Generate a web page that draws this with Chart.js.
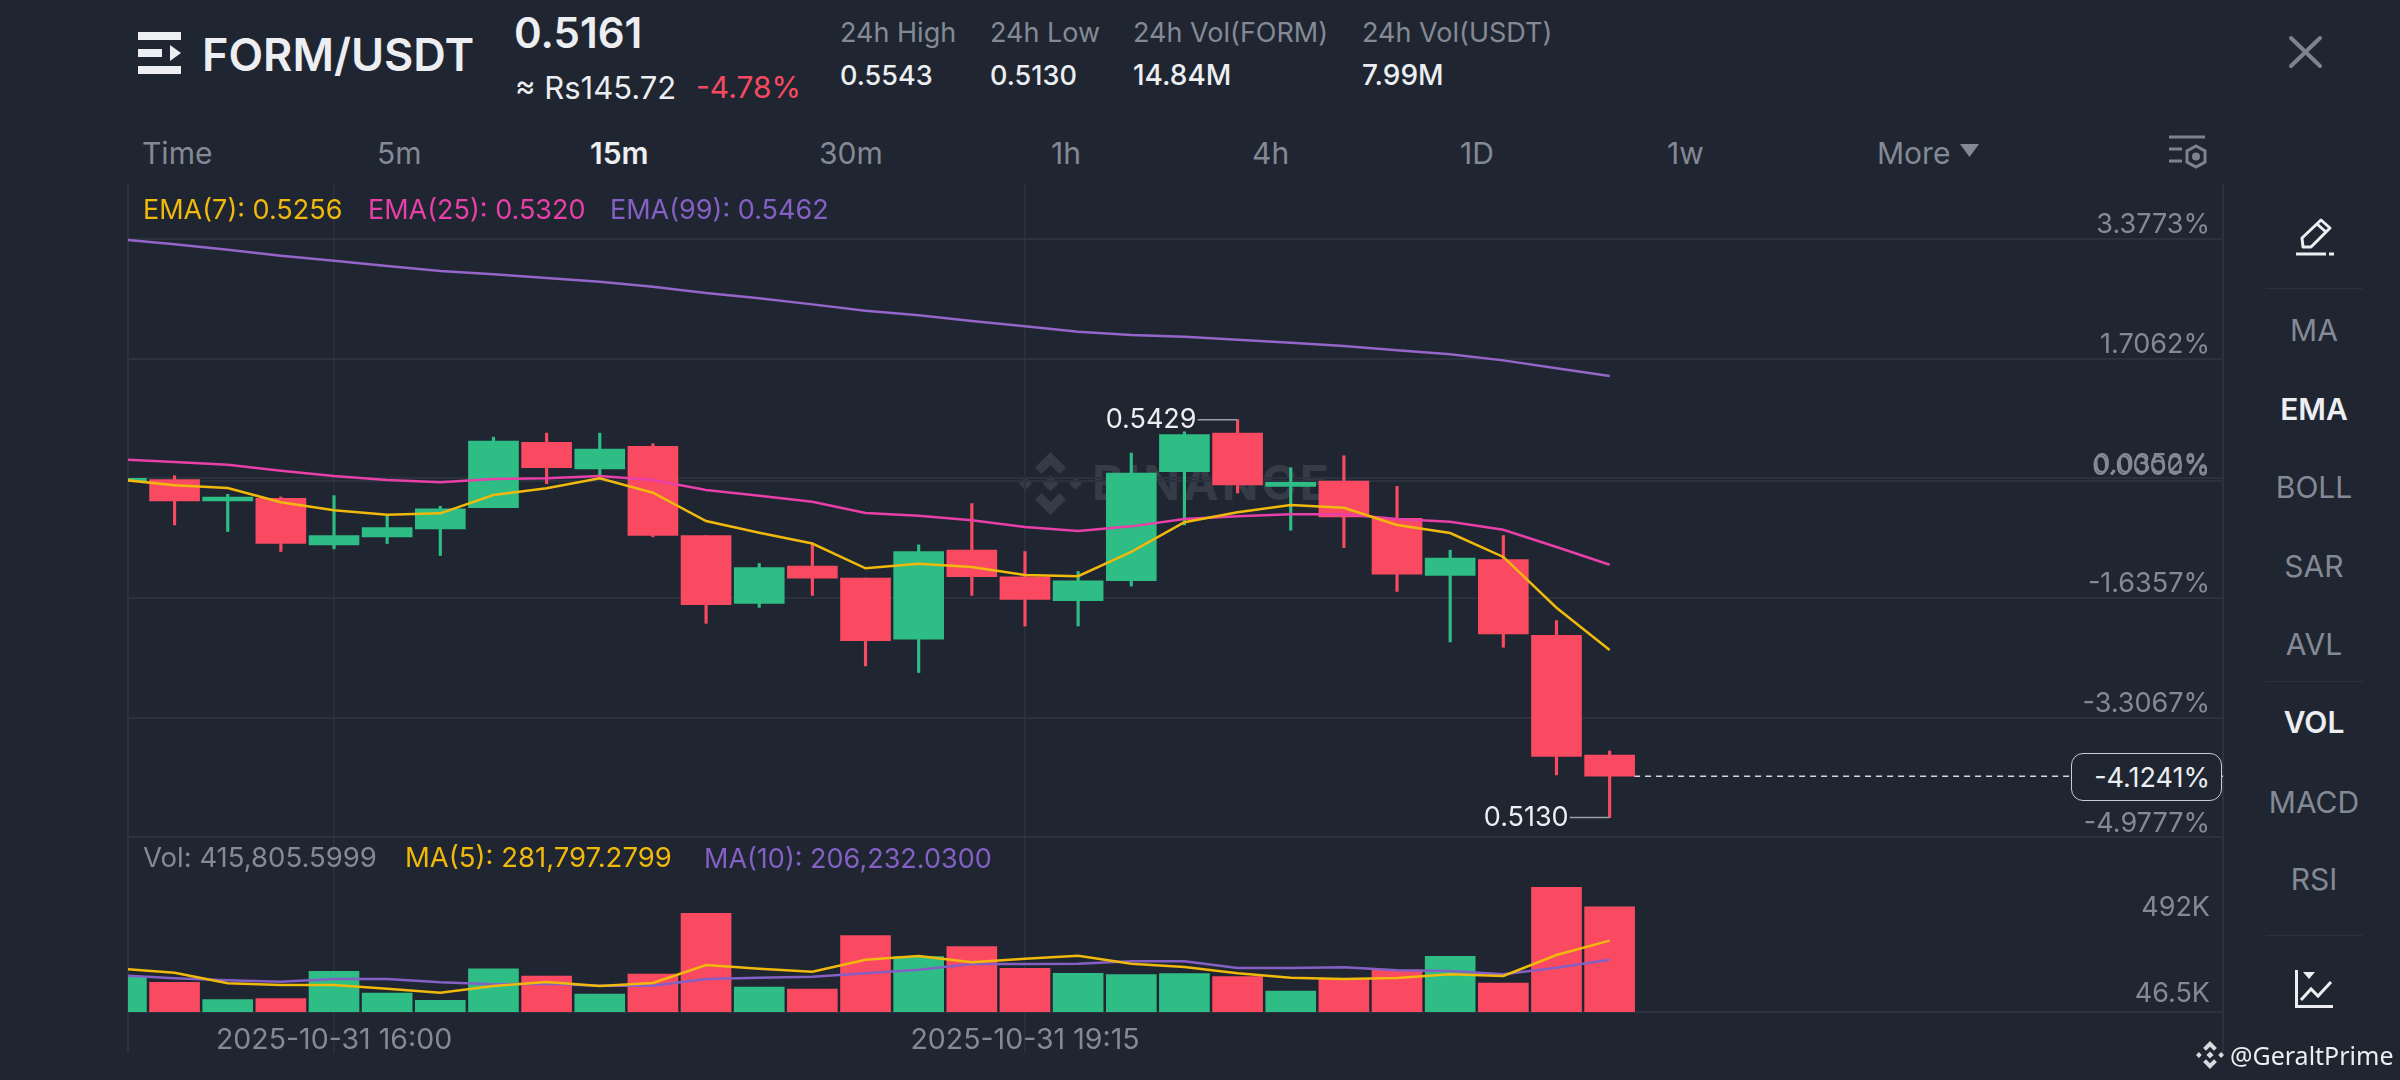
<!DOCTYPE html>
<html>
<head>
<meta charset="utf-8">
<title>FORM/USDT</title>
<script src="https://cdn.jsdelivr.net/npm/chart.js@4"></script>
<style>
  html, body { margin: 0; padding: 0; background: #1f2631; }
  body { position: relative; width: 2400px; height: 1080px; overflow: hidden; font-family: Inter, sans-serif; color: #848a95; }
  .t { position: absolute; white-space: nowrap; line-height: 1; transform: translateY(-50%); }
  .c { transform: translate(-50%, -50%); }
  .w { color: #eceef1; }
  .b { font-weight: 600; }
  .line { position: absolute; background: #2b313d; }
  canvas { position: absolute; }
  svg { position: absolute; overflow: visible; }
</style>
</head>
<body>

<!-- header -->
<svg style="left:138px;top:32px" width="44" height="42" viewBox="0 0 44 42" fill="#eceef1">
  <rect x="0" y="0" width="43" height="8"/><rect x="0" y="17" width="24" height="8"/>
  <polygon points="32,13 43,21 32,29"/><rect x="0" y="34" width="43" height="8"/>
</svg>
<div class="t w b" style="left:202px;top:54px;font-size:45px">FORM/USDT</div>
<div class="t w b" style="left:514px;top:33px;font-size:42px">0.5161</div>
<div class="t w" style="left:515px;top:87px;font-size:31px">≈ Rs145.72</div>
<div class="t" style="left:696px;top:87px;font-size:30px;color:#f84960">-4.78%</div>

<div class="t" style="left:840px;top:32px;font-size:27px">24h High</div>
<div class="t" style="left:990px;top:32px;font-size:27px">24h Low</div>
<div class="t" style="left:1133px;top:32px;font-size:27px">24h Vol(FORM)</div>
<div class="t" style="left:1362px;top:32px;font-size:27px">24h Vol(USDT)</div>
<div class="t w" style="left:840px;top:75px;font-size:27px;font-weight:500">0.5543</div>
<div class="t w" style="left:990px;top:75px;font-size:27px;font-weight:500">0.5130</div>
<div class="t w" style="left:1133px;top:75px;font-size:28px;font-weight:500">14.84M</div>
<div class="t w" style="left:1362px;top:75px;font-size:28px;font-weight:500">7.99M</div>

<svg style="left:2289px;top:36px" width="33" height="32" stroke="#7d828c" stroke-width="4" stroke-linecap="round"><path d="M2 2L31 30M31 2L2 30"/></svg>

<!-- interval tabs -->
<div class="t" style="left:142px;top:153px;font-size:30px">Time</div>
<div class="t" style="left:377px;top:153px;font-size:30px">5m</div>
<div class="t w b" style="left:590px;top:153px;font-size:30px">15m</div>
<div class="t" style="left:819px;top:153px;font-size:30px">30m</div>
<div class="t" style="left:1051px;top:153px;font-size:30px">1h</div>
<div class="t" style="left:1252px;top:153px;font-size:30px">4h</div>
<div class="t" style="left:1460px;top:153px;font-size:30px">1D</div>
<div class="t" style="left:1667px;top:153px;font-size:30px">1w</div>
<div class="t" style="left:1877px;top:153px;font-size:30px">More</div>
<svg style="left:1960px;top:144px" width="20" height="16" fill="#848a95"><polygon points="0,0 19,0 9.5,13"/></svg>
<svg style="left:2169px;top:135px" width="37" height="35" fill="none" stroke="#7d828c" stroke-width="3">
  <path d="M0 2H36M0 14H13M0 26H13"/><path d="M27 11L36 16V27L27 32L18 27V16Z"/><circle cx="27" cy="21.5" r="2.5" fill="#7d828c"/>
</svg>

<!-- chart panel frame -->
<div class="line" style="left:127px;top:184px;width:2px;height:869px"></div>
<div class="line" style="left:2222px;top:184px;width:2px;height:869px"></div>

<!-- watermark, sits under the transparent canvas -->
<svg style="left:1019px;top:452px" width="63" height="63" viewBox="0 0 126 126" fill="#363c47">
  <polygon points="63,0 94,31 81,44 63,26 45,44 32,31"/>
  <polygon points="13,50 26,63 13,76 0,63"/><polygon points="113,50 126,63 113,76 100,63"/>
  <polygon points="63,47 79,63 63,79 47,63"/>
  <polygon points="63,126 94,95 81,82 63,100 45,82 32,95"/>
</svg>
<div class="t" style="left:1092px;top:483px;font-size:48px;font-weight:700;letter-spacing:3px;color:#363c47">BINANCE</div>

<canvas id="priceChart" width="2095" height="656" style="left:128px;top:184px"></canvas>
<canvas id="volChart" width="2095" height="213" style="left:128px;top:840px"></canvas>

<!-- legends -->
<div class="t" style="left:143px;top:209px;font-size:27px;color:#f0b90b">EMA(7): 0.5256</div>
<div class="t" style="left:368px;top:209px;font-size:27px;color:#e93fa8">EMA(25): 0.5320</div>
<div class="t" style="left:610px;top:209px;font-size:27px;color:#8560c4">EMA(99): 0.5462</div>
<div class="t" style="left:143px;top:858px;font-size:27.500px">Vol: 415,805.5999</div>
<div class="t" style="left:405px;top:858px;font-size:27.500px;color:#f0b90b">MA(5): 281,797.2799</div>
<div class="t" style="left:704px;top:858px;font-size:27px;color:#8560c4">MA(10): 206,232.0300</div>

<!-- current price box -->
<div style="position:absolute;left:2071px;top:753px;width:149px;height:46px;border:1.5px solid #c9ccd2;border-radius:12px;background:#1f2631"></div>
<div class="t w" style="right:190px;top:777px;font-size:27px">-4.1241%</div>

<!-- right toolbar -->
<svg style="left:2296px;top:218px" width="38" height="38" fill="none" stroke="#eceef1" stroke-width="3" stroke-linejoin="round">
  <path d="M7 29L6 20L25 2L34 10L15 29Z"/><path d="M21 6L30 14"/><path d="M0 36H30" /><path d="M33 36H38"/>
</svg>
<div class="line" style="left:2266px;top:288px;width:97px;height:1px"></div>
<div class="t c" style="left:2314px;top:330px;font-size:30px">MA</div>
<div class="t c w b" style="left:2314px;top:409px;font-size:30px">EMA</div>
<div class="t c" style="left:2314px;top:487px;font-size:30px">BOLL</div>
<div class="t c" style="left:2314px;top:566px;font-size:30px">SAR</div>
<div class="t c" style="left:2314px;top:644px;font-size:30px">AVL</div>
<div class="line" style="left:2266px;top:681px;width:97px;height:1px"></div>
<div class="t c w b" style="left:2314px;top:722px;font-size:30px">VOL</div>
<div class="t c" style="left:2314px;top:802px;font-size:30px">MACD</div>
<div class="t c" style="left:2314px;top:879px;font-size:30px">RSI</div>
<div class="line" style="left:2266px;top:935px;width:97px;height:1px"></div>
<svg style="left:2295px;top:970px" width="39" height="38" fill="none" stroke="#eceef1" stroke-width="3">
  <path d="M1.500 0V36.500H38"/><path d="M6 30L16 19L23 26L36 12"/><polygon points="8,2 20,2 14,9" fill="#eceef1" stroke="none"/>
</svg>

<!-- source mark -->
<svg style="left:2196px;top:1041px" width="28" height="28" viewBox="0 0 126 126" fill="#d8dade">
  <polygon points="63,0 94,31 81,44 63,26 45,44 32,31"/>
  <polygon points="13,50 26,63 13,76 0,63"/><polygon points="113,50 126,63 113,76 100,63"/>
  <polygon points="63,47 79,63 63,79 47,63"/>
  <polygon points="63,126 94,95 81,82 63,100 45,82 32,95"/>
</svg>
<div class="t" style="left:2230px;top:1055px;font-size:25px;font-family:'Noto Sans';color:#eceef1">@GeraltPrime</div>

<script>
const opens = [0.5383,0.5384,0.5368,0.5370,0.5335,0.5341,0.5347,0.5363,0.5412,0.5392,0.5409,0.5342,0.5291,0.5319,0.5310,0.5264,0.5331,0.5311,0.5293,0.5308,0.5390,0.5419,0.5379,0.5383,0.5355,0.5312,0.5324,0.5267,0.5177];
const highs = [0.5386,0.5387,0.5373,0.5371,0.5372,0.5357,0.5364,0.5416,0.5419,0.5419,0.5411,0.5342,0.5321,0.5336,0.5310,0.5335,0.5366,0.5330,0.5315,0.5404,0.5420,0.5429,0.5393,0.5402,0.5379,0.5331,0.5342,0.5278,0.5180];
const lows = [0.5380,0.5350,0.5345,0.5330,0.5332,0.5336,0.5327,0.5363,0.5381,0.5385,0.5341,0.5276,0.5288,0.5297,0.5244,0.5239,0.5297,0.5274,0.5274,0.5304,0.5350,0.5374,0.5346,0.5333,0.5300,0.5262,0.5258,0.5162,0.5130];
const closes = [0.5385,0.5368,0.5371,0.5336,0.5342,0.5348,0.5362,0.5413,0.5393,0.5407,0.5342,0.5290,0.5318,0.5310,0.5263,0.5330,0.5311,0.5294,0.5308,0.5389,0.5418,0.5380,0.5382,0.5356,0.5313,0.5325,0.5268,0.5176,0.5161];

const ema7 = [0.53840,0.53798,0.53777,0.53670,0.53610,0.53577,0.53587,0.53725,0.53775,0.53850,0.53742,0.53529,0.53441,0.53360,0.53174,0.53208,0.53183,0.53123,0.53114,0.53298,0.53520,0.53595,0.53650,0.53629,0.53499,0.53439,0.53259,0.52877,0.52560];
const ema25 = [0.53993,0.53973,0.53953,0.53907,0.53868,0.53838,0.53820,0.53845,0.53850,0.53868,0.53838,0.53762,0.53719,0.53674,0.53589,0.53569,0.53535,0.53484,0.53454,0.53489,0.53544,0.53565,0.53580,0.53580,0.53544,0.53524,0.53464,0.53334,0.53200];
const ema99 = [0.55647,0.55610,0.55569,0.55524,0.55486,0.55446,0.55409,0.55384,0.55356,0.55328,0.55291,0.55243,0.55204,0.55158,0.55110,0.55076,0.55033,0.54993,0.54952,0.54928,0.54915,0.54892,0.54870,0.54845,0.54813,0.54783,0.54737,0.54677,0.54620];

const volumes = [139600,117000,48700,52700,160600,75000,46500,171000,142000,71000,150000,390000,98800,91000,301500,218600,258000,172500,152700,147500,151500,139600,83000,129000,166000,220000,114600,492000,415805.5999];
const ma5 = [171200,155400,113200,106700,106700,92200,76400,102700,118500,102700,114600,185700,171200,159300,206700,221200,196200,210700,222500,190900,177800,152700,135600,130400,134300,148800,142200,225200,281797.2799];
const ma10 = [144800,133000,125100,119800,130400,130400,117200,109300,111900,104000,104000,130400,135600,139600,152700,167200,189600,189600,190900,200100,200100,173800,173800,176400,164600,162000,148800,175100,206232.03];

// y axis shows percent from the reference price
const basePrice = 0.5383;
const pctTicks = [3.3773, 1.7062, 0.0352, 0, -1.6357, -3.3067, -4.9777];
const pctLabels = ['3.3773%', '1.7062%', '0.0352%', '0.0000%', '-1.6357%', '-3.3067%', '-4.9777%'];

const volTicks = [492000, 46500];
const volLabels = ['492K', '46.5K'];

const timeTicks = [4, 17];
const timeLabels = ['2025-10-31 16:00', '2025-10-31 19:15'];

const red = '#f94a62';
const green = '#2ebd85';
const gridColor = '#2b313d';
const labelColor = '#848a95';
const font = { family: 'Inter', size: 27 };

const idx = closes.map((v, i) => i);
const candleColors = closes.map((c, i) => c >= opens[i] ? green : red);
const xMin = 0.124, xMax = 39.54;

function lineSet(values, color, yAxisID, order) {
  return {
    type: 'line',
    data: idx.map(i => ({ x: i, y: values[i] })),
    borderColor: color,
    borderWidth: 2.5,
    pointRadius: 0,
    tension: 0,
    yAxisID: yAxisID,
    order: order,
  };
}

// the labels sit inside the plot, so no inset and no width for them
function noPad(scale) {
  scale.paddingTop = scale.paddingBottom = scale.paddingLeft = scale.paddingRight = 0;
  if (!scale.isHorizontal()) scale.width = 0;
}

// labels for highest and lowest price in view, with a short leader to the wick
const highLowPlugin = {
  id: 'highLow',
  afterDatasetsDraw(chart) {
    const ctx = chart.ctx;
    const hi = Math.max(...highs), lo = Math.min(...lows);
    const marks = [[highs.indexOf(hi), hi], [lows.indexOf(lo), lo]];
    ctx.save();
    ctx.font = '27px Inter';
    ctx.textAlign = 'right';
    ctx.textBaseline = 'middle';
    marks.forEach(([i, v]) => {
      const x = chart.scales.x.getPixelForValue(i);
      const y = chart.scales.y.getPixelForValue(v);
      ctx.strokeStyle = '#9a9ea6';
      ctx.lineWidth = 1.5;
      ctx.beginPath();
      ctx.moveTo(x, y);
      ctx.lineTo(x - 40, y);
      ctx.stroke();
      ctx.fillStyle = '#eceef1';
      ctx.fillText(v.toFixed(4), x - 41, y);
    });
    ctx.restore();
  }
};

new Chart(document.getElementById('priceChart'), {
  type: 'bar',
  data: {
    datasets: [
      lineSet(ema7, '#f0b90b', 'y', 1),
      lineSet(ema25, '#e93fa8', 'y', 2),
      lineSet(ema99, '#9565c9', 'y', 3),
      {
        // bodies
        data: idx.map(i => ({ x: i, y: [opens[i], closes[i]] })),
        backgroundColor: candleColors,
        barThickness: 50,
        grouped: false,
        order: 4,
      },
      {
        // wicks
        data: idx.map(i => ({ x: i, y: [lows[i], highs[i]] })),
        backgroundColor: candleColors,
        barThickness: 2.5,
        grouped: false,
        order: 5,
      },
      {
        // last price line
        type: 'line',
        data: [{ x: 28.46, y: closes[28] }, { x: xMax, y: closes[28] }],
        borderColor: '#d5d7db',
        borderWidth: 1.5,
        borderDash: [6, 5],
        pointRadius: 0,
        order: 6,
      },
    ]
  },
  options: {
    responsive: false,
    animation: false,
    layout: { padding: 0, autoPadding: false },
    plugins: { legend: { display: false }, tooltip: { enabled: false } },
    scales: {
      x: {
        type: 'linear',
        offset: false,
        min: xMin,
        max: xMax,
        afterBuildTicks: scale => { scale.ticks = timeTicks.map(v => ({ value: v })); },
        afterFit: noPad,
        ticks: { display: false },
        grid: { color: gridColor, lineWidth: 1.5, drawTicks: false, offset: false },
        border: { display: false },
      },
      y: {
        position: 'right',
        min: 0.51131,
        max: 0.56063,
        afterBuildTicks: scale => { scale.ticks = pctTicks.map(p => ({ value: basePrice * (1 + p / 100) })); },
        afterFit: noPad,
        ticks: {
          mirror: true,
          padding: -13,
          labelOffset: -14,
          autoSkip: false,
          color: labelColor,
          font: font,
          callback: (value, i) => pctLabels[i],
        },
        grid: { color: gridColor, lineWidth: 2, drawTicks: false },
        border: { display: false },
      },
    },
  },
  plugins: [highLowPlugin],
});

new Chart(document.getElementById('volChart'), {
  type: 'bar',
  data: {
    datasets: [
      lineSet(ma5, '#f0b90b', 'yVol', 1),
      lineSet(ma10, '#8560c4', 'yVol', 2),
      {
        data: idx.map(i => ({ x: i, y: volumes[i] })),
        backgroundColor: candleColors,
        barThickness: 50,
        yAxisID: 'yVol',
        order: 3,
      },
    ]
  },
  options: {
    responsive: false,
    animation: false,
    layout: { padding: 0, autoPadding: false },
    plugins: { legend: { display: false }, tooltip: { enabled: false } },
    scales: {
      x: {
        type: 'linear',
        offset: false,
        min: xMin,
        max: xMax,
        afterBuildTicks: scale => { scale.ticks = timeTicks.map(v => ({ value: v })); },
        afterFit: scale => { noPad(scale); scale.height = 41; },
        ticks: {
          autoSkip: false,
          maxRotation: 0,
          padding: -30,
          color: labelColor,
          font: { family: 'Inter', size: 28.5 },
          callback: (value, i) => timeLabels[i],
        },
        grid: { color: gridColor, lineWidth: 1.5, tickLength: 41, offset: false },
        border: { color: gridColor, width: 2 },
      },
      yVol: { display: false, min: 0, max: 679400 },
      // the max/min labels run on their own axis, like the app
      yLabel: {
        position: 'right',
        min: -46700,
        max: 844300,
        afterBuildTicks: scale => { scale.ticks = volTicks.map(v => ({ value: v })); },
        afterFit: noPad,
        ticks: {
          mirror: true,
          padding: -13,
          autoSkip: false,
          color: labelColor,
          font: font,
          callback: (value, i) => volLabels[i],
        },
        grid: { display: false, drawTicks: false },
        border: { display: false },
      },
    },
  },
});
</script>
</body>
</html>
